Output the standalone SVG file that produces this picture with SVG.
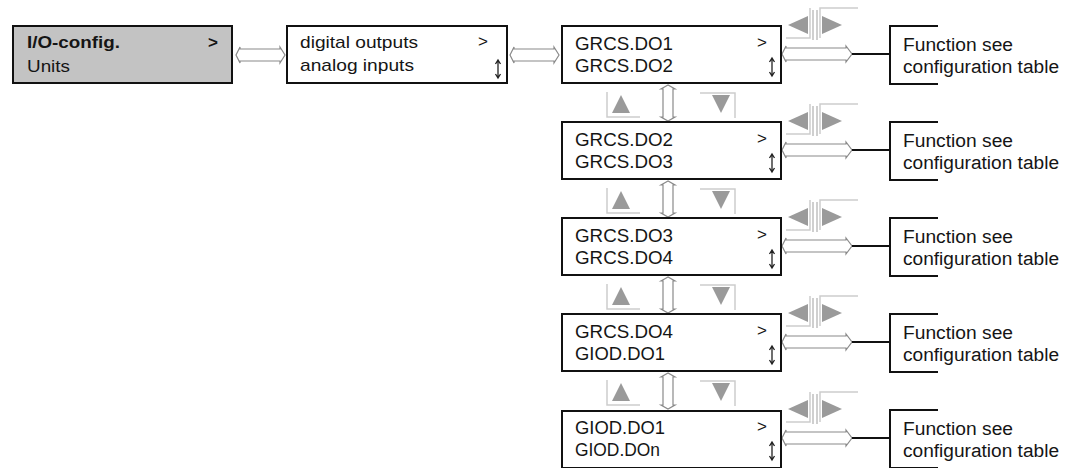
<svg xmlns="http://www.w3.org/2000/svg" xmlns:xlink="http://www.w3.org/1999/xlink" width="1074" height="468" viewBox="0 0 1074 468">
<style>
.box{fill:#fff;stroke:#111;stroke-width:2}
.boxg{fill:#c3c3c3;stroke:#111;stroke-width:2}
.t{font-family:"Liberation Sans",Arial,sans-serif;font-size:17px;fill:#151515}
.t2{font-family:"Liberation Sans",Arial,sans-serif;font-size:18px;fill:#151515}
.tb{font-family:"Liberation Sans",Arial,sans-serif;font-size:17px;font-weight:bold;fill:#151515}
.dar{fill:#fff;stroke:#8a8a8a;stroke-width:1.2}
.tri{fill:#9a9a9a}
.frm{fill:none;stroke:#cdcdcd;stroke-width:1.5}
.blk{fill:none;stroke:#111;stroke-width:2}
.sm{fill:none;stroke:#222;stroke-width:1.3}
</style>
<defs>
<g id="updown">
<path class="sm" d="M0,0 V18 M-2.5,4 L0,0 L2.5,4 M-2.5,14 L0,18 L2.5,14"/>
</g>
<g id="harrow">
<path class="dar" d="M0,0 L4,-8 L4,-6 L44,-6 L44,-8 L49,0 L44,8 L44,6 L4,6 L4,8 Z"/>
</g>
<g id="harrowR">
<path class="dar" d="M0,0 L4,-8 L4,-6 L64,-6 L64,-8 L70,0 L64,8 L64,6 L4,6 L4,8 Z"/>
</g>
<g id="varrow">
<path class="dar" d="M0,0 L-7,4 L-5,4 L-5,32 L-7,32 L0,36 L7,32 L5,32 L5,4 L7,4 Z"/>
</g>
<g id="lricon">
<path class="frm" d="M786,38 H810 V8 M820,38 V8 H858"/>
<polygon class="tri" points="788,25 808,16 808,34"/>
<polygon class="tri" points="842,25 822,16 822,34"/>
<path class="frm" d="M813,10 V40 M817,10 V40" style="stroke:#b0b0b0;stroke-width:1.2"/>
</g>
<g id="udicon">
<path class="frm" d="M607,92 V117 H640"/>
<polygon class="tri" points="612,113 621,95 630,113"/>
<path class="frm" d="M700,93 H735 V118"/>
<polygon class="tri" points="712,95 730,95 721,113"/>
</g>
</defs>

<g id="connectors">
<use xlink:href="#harrow" x="236" y="55"/>
<use xlink:href="#harrow" x="510" y="55"/>
<g id="row-connectors-0">
<use xlink:href="#harrowR" x="782" y="54"/>
<path class="blk" d="M852,54 H890"/>
<use xlink:href="#lricon"/>
<use xlink:href="#varrow" x="668" y="85"/>
<use xlink:href="#udicon"/>
</g>
<g transform="translate(0,96)">
<use xlink:href="#harrowR" x="782" y="54"/>
<path class="blk" d="M852,54 H890"/>
<use xlink:href="#lricon"/>
<use xlink:href="#varrow" x="668" y="85"/>
<use xlink:href="#udicon"/>
</g>
<g transform="translate(0,192)">
<use xlink:href="#harrowR" x="782" y="54"/>
<path class="blk" d="M852,54 H890"/>
<use xlink:href="#lricon"/>
<use xlink:href="#varrow" x="668" y="85"/>
<use xlink:href="#udicon"/>
</g>
<g transform="translate(0,288)">
<use xlink:href="#harrowR" x="782" y="54"/>
<path class="blk" d="M852,54 H890"/>
<use xlink:href="#lricon"/>
<use xlink:href="#varrow" x="668" y="85"/>
<use xlink:href="#udicon"/>
</g>
<g transform="translate(0,384)">
<use xlink:href="#harrowR" x="782" y="54"/>
<path class="blk" d="M852,54 H890"/>
<use xlink:href="#lricon"/>
</g>
</g>

<g id="node-ioconfig">
<rect class="boxg" x="13" y="26" width="219" height="57"/>
<text class="tb" x="27" y="48" textLength="93" lengthAdjust="spacingAndGlyphs">I/O-config.</text>
<text class="tb" x="208" y="48">&gt;</text>
<text class="t" x="27" y="72" textLength="43" lengthAdjust="spacingAndGlyphs">Units</text>
</g>

<g id="node-outputs">
<rect class="box" x="287" y="26" width="220" height="57"/>
<text class="t" x="300" y="48" textLength="118" lengthAdjust="spacingAndGlyphs">digital outputs</text>
<text class="t" x="478" y="47">&gt;</text>
<text class="t" x="300" y="71" textLength="114" lengthAdjust="spacingAndGlyphs">analog inputs</text>
<use xlink:href="#updown" x="498" y="60"/>
</g>

<g id="node-do1">
<rect class="box" x="562" y="26" width="219" height="57"/>
<text class="t2" x="575" y="50" textLength="98" lengthAdjust="spacingAndGlyphs">GRCS.DO1</text>
<text class="t" x="757" y="48">&gt;</text>
<text class="t2" x="575" y="72" textLength="98" lengthAdjust="spacingAndGlyphs">GRCS.DO2</text>
<use xlink:href="#updown" x="772" y="58"/>
</g>
<g id="node-func1">
<path class="blk" d="M938,26 H890 V84 H938"/>
<text class="t2" x="903" y="51" textLength="110" lengthAdjust="spacingAndGlyphs">Function see</text>
<text class="t2" x="903" y="73" textLength="156" lengthAdjust="spacingAndGlyphs">configuration table</text>
</g>

<g id="node-do2" transform="translate(0,96)">
<rect class="box" x="562" y="26" width="219" height="57"/>
<text class="t2" x="575" y="50" textLength="98" lengthAdjust="spacingAndGlyphs">GRCS.DO2</text>
<text class="t" x="757" y="48">&gt;</text>
<text class="t2" x="575" y="72" textLength="98" lengthAdjust="spacingAndGlyphs">GRCS.DO3</text>
<use xlink:href="#updown" x="772" y="58"/>
</g>
<g id="node-func2" transform="translate(0,96)">
<path class="blk" d="M938,26 H890 V84 H938"/>
<text class="t2" x="903" y="51" textLength="110" lengthAdjust="spacingAndGlyphs">Function see</text>
<text class="t2" x="903" y="73" textLength="156" lengthAdjust="spacingAndGlyphs">configuration table</text>
</g>

<g id="node-do3" transform="translate(0,192)">
<rect class="box" x="562" y="26" width="219" height="57"/>
<text class="t2" x="575" y="50" textLength="98" lengthAdjust="spacingAndGlyphs">GRCS.DO3</text>
<text class="t" x="757" y="48">&gt;</text>
<text class="t2" x="575" y="72" textLength="98" lengthAdjust="spacingAndGlyphs">GRCS.DO4</text>
<use xlink:href="#updown" x="772" y="58"/>
</g>
<g id="node-func3" transform="translate(0,192)">
<path class="blk" d="M938,26 H890 V84 H938"/>
<text class="t2" x="903" y="51" textLength="110" lengthAdjust="spacingAndGlyphs">Function see</text>
<text class="t2" x="903" y="73" textLength="156" lengthAdjust="spacingAndGlyphs">configuration table</text>
</g>

<g id="node-do4" transform="translate(0,288)">
<rect class="box" x="562" y="26" width="219" height="57"/>
<text class="t2" x="575" y="50" textLength="98" lengthAdjust="spacingAndGlyphs">GRCS.DO4</text>
<text class="t" x="757" y="48">&gt;</text>
<text class="t2" x="575" y="72" textLength="90" lengthAdjust="spacingAndGlyphs">GIOD.DO1</text>
<use xlink:href="#updown" x="772" y="58"/>
</g>
<g id="node-func4" transform="translate(0,288)">
<path class="blk" d="M938,26 H890 V84 H938"/>
<text class="t2" x="903" y="51" textLength="110" lengthAdjust="spacingAndGlyphs">Function see</text>
<text class="t2" x="903" y="73" textLength="156" lengthAdjust="spacingAndGlyphs">configuration table</text>
</g>

<g id="node-do5" transform="translate(0,384)">
<rect class="box" x="562" y="27" width="219" height="57"/>
<text class="t2" x="575" y="50" textLength="90" lengthAdjust="spacingAndGlyphs">GIOD.DO1</text>
<text class="t" x="757" y="48">&gt;</text>
<text class="t2" x="575" y="72" textLength="85" lengthAdjust="spacingAndGlyphs">GIOD.DOn</text>
<use xlink:href="#updown" x="772" y="58"/>
</g>
<g id="node-func5" transform="translate(0,384)">
<path class="blk" d="M938,26 H890 V84 H938"/>
<text class="t2" x="903" y="51" textLength="110" lengthAdjust="spacingAndGlyphs">Function see</text>
<text class="t2" x="903" y="73" textLength="156" lengthAdjust="spacingAndGlyphs">configuration table</text>
</g>
</svg>
